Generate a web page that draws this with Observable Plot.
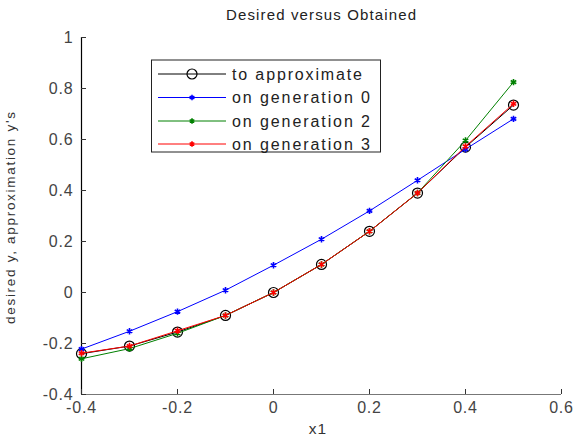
<!DOCTYPE html>
<html>
<head>
<meta charset="utf-8">
<script src="https://cdn.jsdelivr.net/npm/d3@7"></script>
<script src="https://cdn.jsdelivr.net/npm/@observablehq/plot@0.6"></script>
<style>
  html, body { margin: 0; padding: 0; background: #fff; }
  svg { display: block; }
</style>
</head>
<body>
<div id="chart"></div>
<script>
const titleText = "Desired versus Obtained";
const xLabel = "x1";
const yLabel = "desired y, approximation y's";
const xs = [-0.4, -0.3, -0.2, -0.1, 0, 0.1, 0.2, 0.3, 0.4, 0.5];
const target = [-0.24, -0.21, -0.155, -0.09, 0, 0.11, 0.24, 0.39, 0.57, 0.735];
const gen0 = [-0.222, -0.152, -0.075, 0.009, 0.107, 0.209, 0.32, 0.44, 0.562, 0.681];
const gen2 = [-0.26, -0.22, -0.16, -0.09, 0, 0.11, 0.24, 0.39, 0.596, 0.825];
const gen3 = [-0.238, -0.21, -0.15, -0.09, 0, 0.11, 0.24, 0.39, 0.573, 0.74];
const seriesNames = ["to approximate", "on generation 0", "on generation 2", "on generation 3"];
const seriesColors = ["#000000", "#0000ff", "#008000", "#ff0000"];
const xTicks = [-0.4, -0.2, 0, 0.2, 0.4, 0.6];
const yTicks = [-0.4, -0.2, 0, 0.2, 0.4, 0.6, 0.8, 1];

const seriesValues = [target, gen0, gen2, gen3];
const rows = seriesValues.map((vals, k) => vals.map((v, i) => ({x: xs[i], y: v, s: seriesNames[k]})));
const fmt = d => String(Math.round(d * 10) / 10);
const font = "Liberation Sans, Arial, Helvetica, sans-serif";

const marks = [
  Plot.ruleY([-0.4], {stroke: "#777", strokeWidth: 1}),
  Plot.ruleX([-0.4], {stroke: "#000", strokeWidth: 1.2}),
  Plot.axisX(xTicks, {tickSize: 0, tickPadding: 7, tickFormat: fmt, fontSize: 16, fill: "#444", label: null}),
  Plot.axisX(xTicks, {tickSize: 5, dy: -5, tickFormat: () => "", stroke: "#333", label: null}),
  Plot.axisY(yTicks, {tickSize: 0, tickPadding: 8, tickFormat: fmt, fontSize: 16, fill: "#444", label: null}),
  Plot.axisY(yTicks, {tickSize: 5, dx: 5, tickFormat: () => "", stroke: "#333", label: null})
];
rows.forEach((r, k) => {
  marks.push(Plot.line(r, {x: "x", y: "y", stroke: seriesColors[k], strokeWidth: 1}));
  if (k === 0) {
    marks.push(Plot.dot(r, {x: "x", y: "y", r: 5, stroke: "#000", fill: "none", strokeWidth: 1.2}));
  } else {
    marks.push(Plot.dot(r, {x: "x", y: "y", r: 3, symbol: "asterisk", stroke: seriesColors[k], strokeWidth: 1.6}));
  }
});

const chart = Plot.plot({
  width: 577,
  height: 439,
  marginLeft: 81,
  marginRight: 16,
  marginTop: 37,
  marginBottom: 45,
  style: {fontFamily: font, background: "#fff", overflow: "visible"},
  x: {domain: [-0.4, 0.6], axis: null},
  y: {domain: [-0.4, 1], axis: null},
  marks
});
document.getElementById("chart").appendChild(chart);

const svg = d3.select(chart);
svg.selectAll('g[aria-label$="tick label"] text').attr("letter-spacing", 0.8);
svg.append("text").attr("x", 321).attr("y", 20).attr("text-anchor", "middle")
  .attr("font-size", 15).attr("fill", "#222").attr("font-family", font)
  .attr("textLength", 190).attr("lengthAdjust", "spacing").text(titleText);
svg.append("text").attr("x", 318).attr("y", 434).attr("text-anchor", "middle")
  .attr("font-size", 15.5).attr("fill", "#333").attr("font-family", font).attr("letter-spacing", 1).text(xLabel);
svg.append("text").attr("transform", "translate(15,218) rotate(-90)").attr("text-anchor", "middle")
  .attr("font-size", 13.5).attr("fill", "#333").attr("font-family", font)
  .attr("textLength", 212).attr("lengthAdjust", "spacing").text(yLabel);

// legend
const lg = svg.append("g");
lg.append("rect").attr("x", 151.5).attr("y", 60).attr("width", 229).attr("height", 92)
  .attr("fill", "#fff").attr("stroke", "#222").attr("stroke-width", 1);
const rowY = [75, 98.5, 122, 145];
const legendLen = [130, 138, 138, 138];
seriesNames.forEach((name, k) => {
  const y = rowY[k] - 1;
  lg.append("line").attr("x1", 158).attr("x2", 226).attr("y1", y).attr("y2", y)
    .attr("stroke", seriesColors[k]).attr("stroke-width", 1);
  if (k === 0) {
    lg.append("circle").attr("cx", 192).attr("cy", y).attr("r", 5).attr("fill", "none")
      .attr("stroke", "#000").attr("stroke-width", 1.2);
  } else {
    lg.append("path").attr("transform", `translate(192,${y})`).attr("d", d3.symbol(d3.symbolAsterisk, 20)())
      .attr("stroke", seriesColors[k]).attr("stroke-width", 1.6).attr("fill", "none");
  }
  lg.append("text").attr("x", 232).attr("y", y + 5.5).attr("text-anchor", "start")
    .attr("font-size", 16).attr("fill", "#222").attr("font-family", font)
    .attr("textLength", legendLen[k]).attr("lengthAdjust", "spacing").text(name);
});
</script>
</body>
</html>
